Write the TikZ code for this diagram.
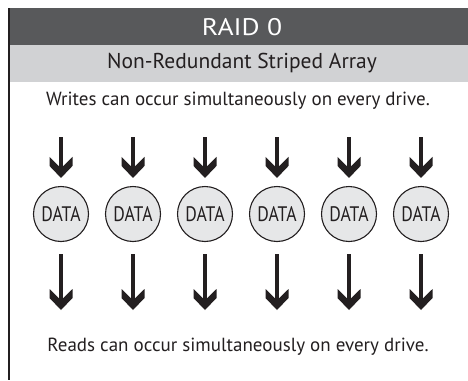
\documentclass[tikz,border=0pt]{standalone}
\usepackage{fontspec}
\setmainfont{PT Sans}
\usetikzlibrary{arrows.meta}

\definecolor{banddark}{HTML}{58595B}
\definecolor{bandlight}{HTML}{D1D2D4}
\definecolor{diskfill}{HTML}{E6E7E8}
\definecolor{inkline}{HTML}{231F20}

% Blocky chevron head: notched back, short straight wing edges, pointed tip
\pgfdeclarearrow{
  name = Chevron,
  setup code = {
    \pgfarrowssettipend{0pt}
    \pgfarrowssetlineend{-8pt}
    \pgfarrowssetvisualbackend{-21pt}
    \pgfarrowssetbackend{-21pt}
    \pgfarrowshullpoint{0pt}{0pt}
    \pgfarrowshullpoint{-21pt}{11.5pt}
    \pgfarrowshullpoint{-21pt}{-11.5pt}
  },
  drawing code = {
    \pgfpathmoveto{\pgfpoint{0pt}{0pt}}
    \pgfpathlineto{\pgfpoint{-12pt}{11.5pt}}
    \pgfpathlineto{\pgfpoint{-21pt}{11.5pt}}
    \pgfpathlineto{\pgfpoint{-12pt}{2.4pt}}
    \pgfpathlineto{\pgfpoint{-12pt}{-2.4pt}}
    \pgfpathlineto{\pgfpoint{-21pt}{-11.5pt}}
    \pgfpathlineto{\pgfpoint{-12pt}{-11.5pt}}
    \pgfpathclose
    \pgfusepathqfill
  },
}

\tikzset{
  heading/.style={font=\fontsize{24}{28}\selectfont, text=white, inner sep=0pt},
  subheading/.style={font=\fontsize{21.5}{25}\selectfont, text=inkline, inner sep=0pt},
  caption/.style={font=\fontsize{19}{22}\selectfont, text=inkline, inner sep=0pt},
  disk/.style={circle, draw=inkline, line width=1.1pt, fill=diskfill,
    minimum size=55pt, inner sep=0pt, text=inkline,
    font=\fontsize{21}{24}\selectfont},
  flow/.style={draw=inkline, fill=inkline, line width=4.8pt, -Chevron},
}

\begin{document}
\begin{tikzpicture}[x=1pt, y=-1pt]
  \useasboundingbox (0,0) rectangle (468,380);
  \fill[white] (0,0) rectangle (468,380);

  % header bands
  \fill[banddark] (9,8) rectangle (468,45);
  \fill[bandlight] (10,45) rectangle (468,82);
  \draw[inkline, line width=2pt] (9,8) -- (9,380);

  \node[heading] (title) at (242,27) {\scalebox{1.15}[1]{RAID 0}};
  \node[subheading] (subtitle) at (242,63) {Non-Redundant Striped Array};
  \node[caption] (writes) at (238,101) {Writes can occur simultaneously on every drive.};
  \node[caption] (reads) at (238,347) {Reads can occur simultaneously on every drive.};

  % one column per drive: incoming write, disk, outgoing read
  \foreach \i/\c in {1/61, 2/133, 3/205, 4/277, 5/349, 6/421} {
    \coordinate (in\i) at (\c,137);
    \node[disk] (d\i) at (\c,214) {\scalebox{0.84}[1]{DATA}};
    \coordinate (out\i) at (\c,310);
    \draw[flow, shorten >=8pt] (in\i) -- (d\i.north);
    \draw[flow, shorten <=12pt] (d\i.south) -- (out\i);
  }
\end{tikzpicture}
\end{document}
